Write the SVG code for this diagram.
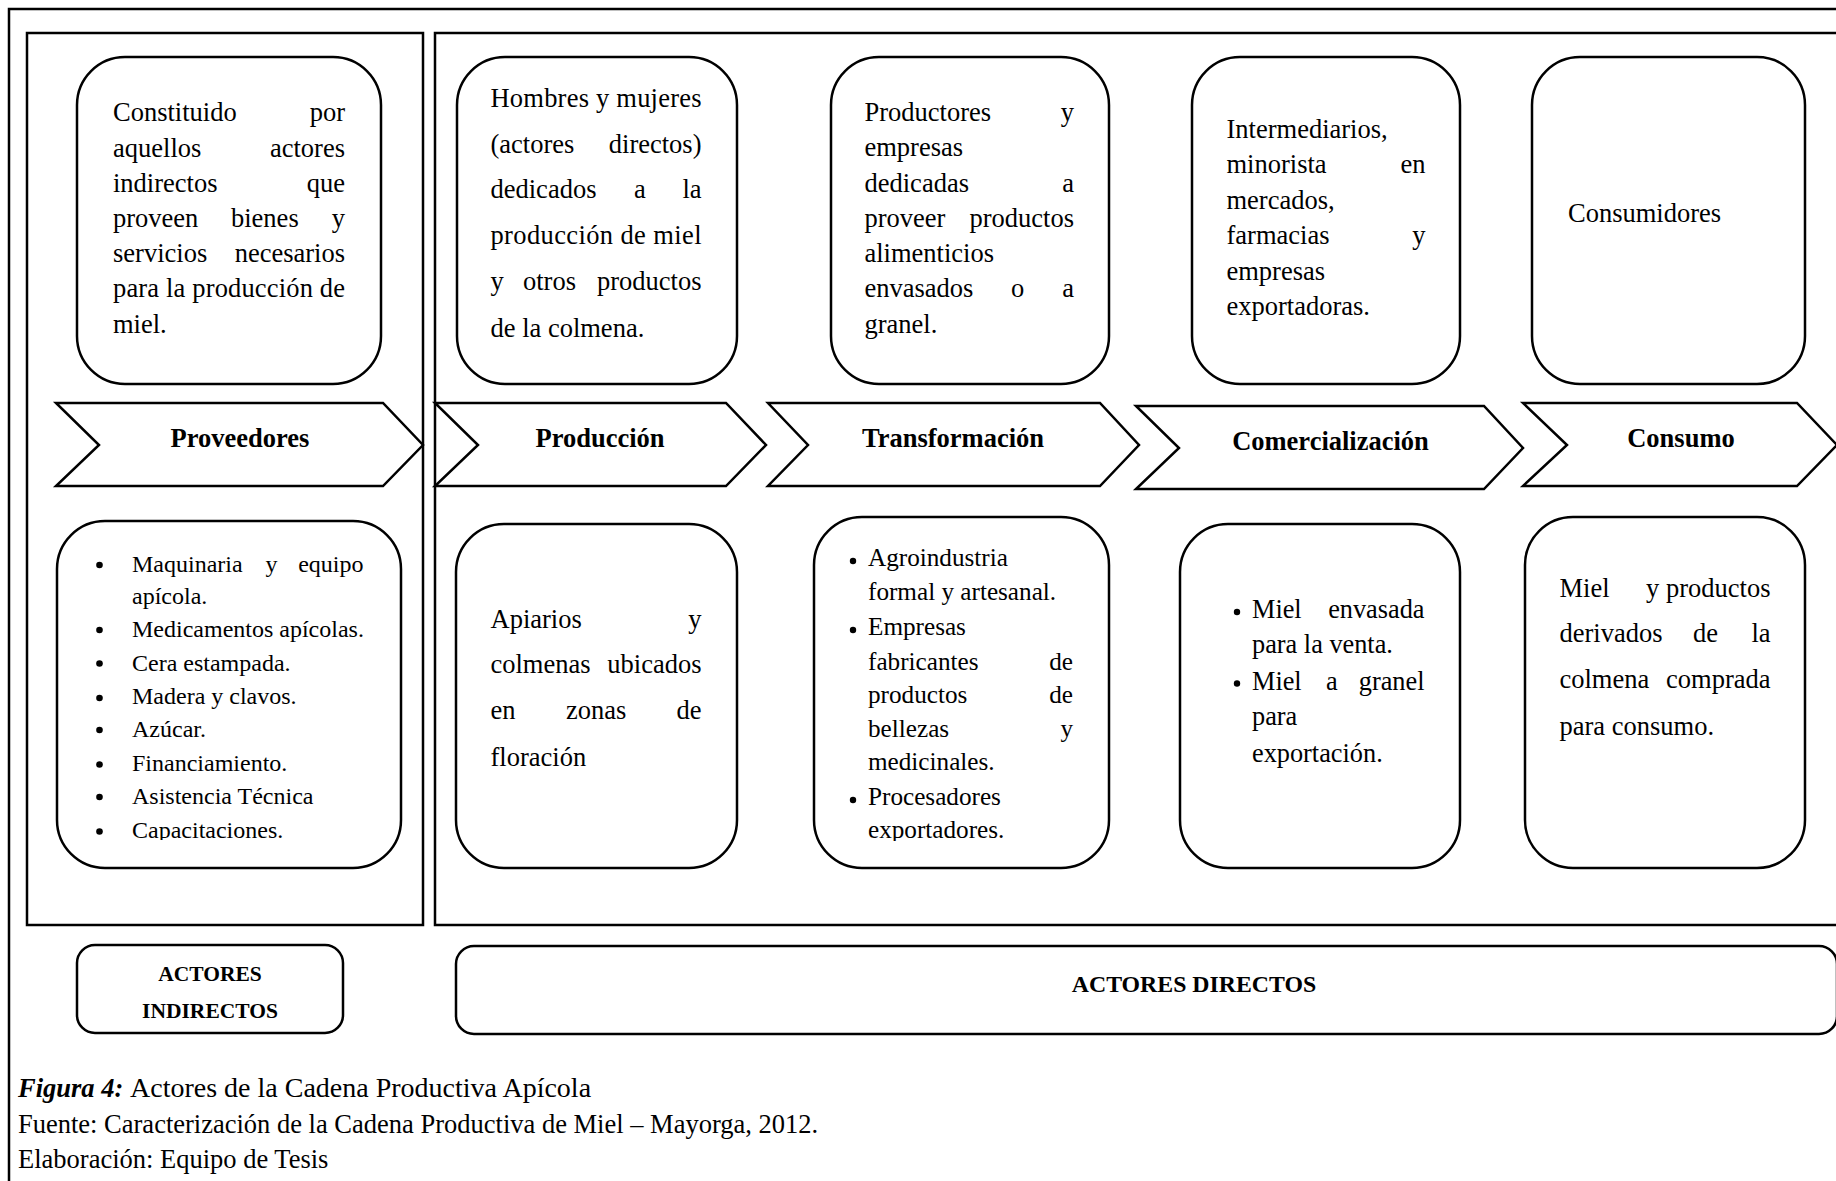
<svg xmlns="http://www.w3.org/2000/svg" width="1836" height="1181" viewBox="0 0 1836 1181">
<style>
.frame{fill:none;stroke:#000;stroke-width:2.5}
.box{fill:#fff;stroke:#000;stroke-width:2.5}
.t{font-family:"Liberation Serif","Times New Roman",serif;font-size:26.5px;fill:#000}
.s24{font-size:24px}
.s25{font-size:25.2px}
.s26{font-size:26.3px}
.b{font-weight:bold}
.c{text-anchor:middle}
.e{text-anchor:end}
.lab{font-family:"Liberation Serif","Times New Roman",serif;font-weight:bold;fill:#000;text-anchor:middle}
</style>
<defs>
<clipPath id="clipB1"><rect x="40" y="500" width="380" height="340"/></clipPath>
<clipPath id="clipB3"><rect x="800" y="500" width="320" height="341"/></clipPath>
</defs>
<rect width="1836" height="1181" fill="#fff"/>
<g id="frames">
<path class="frame" d="M1840,9 H9 V1190"/>
<rect class="frame" x="27" y="33" width="396" height="892"/>
<path class="frame" d="M1840,33 H435 V925 H1840"/>
</g>

<g id="top-proveedores">
<rect class="box" x="77" y="57" width="304" height="327" rx="48"/>
<text class="t"><tspan x="113" y="121">Constituido</tspan><tspan x="345" y="121" class="e">por</tspan></text>
<text class="t"><tspan x="113" y="157">aquellos</tspan><tspan x="345" y="157" class="e">actores</tspan></text>
<text class="t"><tspan x="113" y="192">indirectos</tspan><tspan x="345" y="192" class="e">que</tspan></text>
<text class="t"><tspan x="113" y="227">proveen</tspan><tspan x="231" y="227">bienes</tspan><tspan x="345" y="227" class="e">y</tspan></text>
<text class="t"><tspan x="113" y="262">servicios</tspan><tspan x="345" y="262" class="e">necesarios</tspan></text>
<text class="t" x="113" y="297" textLength="232" lengthAdjust="spacing">para la producción de</text>
<text class="t" x="113" y="333">miel.</text>
</g>

<g id="top-produccion">
<rect class="box" x="457" y="57" width="280" height="327" rx="48"/>
<text class="t" x="490.5" y="107" textLength="211" lengthAdjust="spacing">Hombres y mujeres</text>
<text class="t"><tspan x="490.5" y="153">(actores</tspan><tspan x="701.5" y="153" class="e">directos)</tspan></text>
<text class="t"><tspan x="490.5" y="198">dedicados</tspan><tspan x="634" y="198">a</tspan><tspan x="701.5" y="198" class="e">la</tspan></text>
<text class="t" x="490.5" y="244" textLength="211" lengthAdjust="spacing">producción de miel</text>
<text class="t"><tspan x="490.5" y="290">y</tspan><tspan x="523" y="290">otros</tspan><tspan x="701.5" y="290" class="e">productos</tspan></text>
<text class="t" x="490.5" y="337">de la colmena.</text>
</g>

<g id="top-transformacion">
<rect class="box" x="831" y="57" width="278" height="327" rx="48"/>
<text class="t"><tspan x="864.5" y="121">Productores</tspan><tspan x="1074" y="121" class="e">y</tspan></text>
<text class="t" x="864.5" y="156">empresas</text>
<text class="t"><tspan x="864.5" y="192">dedicadas</tspan><tspan x="1074" y="192" class="e">a</tspan></text>
<text class="t"><tspan x="864.5" y="227">proveer</tspan><tspan x="1074" y="227" class="e">productos</tspan></text>
<text class="t" x="864.5" y="262">alimenticios</text>
<text class="t"><tspan x="864.5" y="297">envasados</tspan><tspan x="1011" y="297">o</tspan><tspan x="1074" y="297" class="e">a</tspan></text>
<text class="t" x="864.5" y="333">granel.</text>
</g>

<g id="top-comercializacion">
<rect class="box" x="1192" y="57" width="268" height="327" rx="48"/>
<text class="t" x="1226.5" y="138">Intermediarios,</text>
<text class="t"><tspan x="1226.5" y="173">minorista</tspan><tspan x="1425.5" y="173" class="e">en</tspan></text>
<text class="t" x="1226.5" y="209">mercados,</text>
<text class="t"><tspan x="1226.5" y="244">farmacias</tspan><tspan x="1425.5" y="244" class="e">y</tspan></text>
<text class="t" x="1226.5" y="280">empresas</text>
<text class="t" x="1226.5" y="315">exportadoras.</text>
</g>

<g id="top-consumo">
<rect class="box" x="1532" y="57" width="273" height="327" rx="48"/>
<text class="t" x="1568" y="222">Consumidores</text>
</g>

<g id="chev-proveedores">
<polygon class="box" points="56,403 383,403 423,445 383,486 56,486 99,445"/>
<text class="lab" x="240" y="447" font-size="26.5">Proveedores</text>
</g>
<g id="chev-produccion">
<polygon class="box" points="435,403 726,403 766,445 726,486 435,486 478,445"/>
<text class="lab" x="600" y="447" font-size="26.5">Producción</text>
</g>
<g id="chev-transformacion">
<polygon class="box" points="768,403 1100,403 1139,445 1100,486 768,486 808,445"/>
<text class="lab" x="953" y="447" font-size="26.5">Transformación</text>
</g>
<g id="chev-comercializacion">
<polygon class="box" points="1136,406 1484,406 1523,448 1484,489 1136,489 1179,448"/>
<text class="lab" x="1330.5" y="450" font-size="26.5">Comercialización</text>
</g>
<g id="chev-consumo">
<polygon class="box" points="1523,403 1797,403 1837,445 1797,486 1523,486 1567,445"/>
<text class="lab" x="1681" y="447" font-size="26.5">Consumo</text>
</g>

<g id="bot-proveedores">
<rect class="box" x="57" y="521" width="344" height="347" rx="48"/>
<g clip-path="url(#clipB1)">
<circle cx="99.5" cy="565" r="3.3"/>
<circle cx="99.5" cy="630" r="3.3"/>
<circle cx="99.5" cy="663.5" r="3.3"/>
<circle cx="99.5" cy="698" r="3.3"/>
<circle cx="99.5" cy="730" r="3.3"/>
<circle cx="99.5" cy="764.5" r="3.3"/>
<circle cx="99.5" cy="797" r="3.3"/>
<circle cx="99.5" cy="831.5" r="3.3"/>
<text class="t s24"><tspan x="132" y="572">Maquinaria</tspan><tspan x="265.5" y="572">y</tspan><tspan x="363.5" y="572" class="e">equipo</tspan></text>
<text class="t s24" x="132" y="604">apícola.</text>
<text class="t s24" x="132" y="637">Medicamentos apícolas.</text>
<text class="t s24" x="132" y="671">Cera estampada.</text>
<text class="t s24" x="132" y="704">Madera y clavos.</text>
<text class="t s24" x="132" y="737">Azúcar.</text>
<text class="t s24" x="132" y="771">Financiamiento.</text>
<text class="t s24" x="132" y="804">Asistencia Técnica</text>
<text class="t s24" x="132" y="838">Capacitaciones.</text>
</g>
</g>

<g id="bot-produccion">
<rect class="box" x="456" y="524" width="281" height="344" rx="48"/>
<text class="t"><tspan x="490.5" y="628">Apiarios</tspan><tspan x="701.5" y="628" class="e">y</tspan></text>
<text class="t"><tspan x="490.5" y="673">colmenas</tspan><tspan x="701.5" y="673" class="e">ubicados</tspan></text>
<text class="t"><tspan x="490.5" y="719">en</tspan><tspan x="566" y="719">zonas</tspan><tspan x="701.5" y="719" class="e">de</tspan></text>
<text class="t" x="490.5" y="766">floración</text>
</g>

<g id="bot-transformacion">
<rect class="box" x="814" y="517" width="295" height="351" rx="48"/>
<g clip-path="url(#clipB3)">
<circle cx="853" cy="561" r="3.2"/>
<circle cx="853" cy="630" r="3.2"/>
<circle cx="853" cy="800" r="3.2"/>
<text class="t s25" x="868" y="566">Agroindustria</text>
<text class="t s25" x="868" y="600">formal y artesanal.</text>
<text class="t s25" x="868" y="635">Empresas</text>
<text class="t s25"><tspan x="868" y="670">fabricantes</tspan><tspan x="1073" y="670" class="e">de</tspan></text>
<text class="t s25"><tspan x="868" y="703">productos</tspan><tspan x="1073" y="703" class="e">de</tspan></text>
<text class="t s25"><tspan x="868" y="737">bellezas</tspan><tspan x="1073" y="737" class="e">y</tspan></text>
<text class="t s25" x="868" y="770">medicinales.</text>
<text class="t s25" x="868" y="805">Procesadores</text>
<text class="t s25" x="868" y="838">exportadores.</text>
</g>
</g>

<g id="bot-comercializacion">
<rect class="box" x="1180" y="524" width="280" height="344" rx="48"/>
<circle cx="1237" cy="612" r="3.2"/>
<circle cx="1237" cy="683.5" r="3.2"/>
<text class="t s26"><tspan x="1252" y="618">Miel</tspan><tspan x="1424.5" y="618" class="e">envasada</tspan></text>
<text class="t s26" x="1252" y="653">para la venta.</text>
<text class="t s26"><tspan x="1252" y="690">Miel</tspan><tspan x="1326" y="690">a</tspan><tspan x="1424.5" y="690" class="e">granel</tspan></text>
<text class="t s26" x="1252" y="725">para</text>
<text class="t s26" x="1252" y="762">exportación.</text>
</g>

<g id="bot-consumo">
<rect class="box" x="1525" y="517" width="280" height="351" rx="48"/>
<text class="t"><tspan x="1559.5" y="597">Miel</tspan><tspan x="1770.5" y="597" class="e">y productos</tspan></text>
<text class="t"><tspan x="1559.5" y="642">derivados</tspan><tspan x="1693" y="642">de</tspan><tspan x="1770.5" y="642" class="e">la</tspan></text>
<text class="t"><tspan x="1559.5" y="688">colmena</tspan><tspan x="1770.5" y="688" class="e">comprada</tspan></text>
<text class="t" x="1559.5" y="735">para consumo.</text>
</g>

<g id="label-indirectos">
<rect class="box" x="77" y="945" width="266" height="88" rx="18"/>
<text class="lab" x="210" y="981" font-size="21.5">ACTORES</text>
<text class="lab" x="210" y="1018" font-size="21.5">INDIRECTOS</text>
</g>
<g id="label-directos">
<rect class="box" x="456" y="946" width="1381" height="88" rx="18"/>
<text class="lab" x="1194" y="992" font-size="23.8">ACTORES DIRECTOS</text>
</g>

<g id="connectors"></g>

<g id="caption">
<text class="t" x="18" y="1097"><tspan font-weight="bold" font-style="italic">Figura 4:</tspan><tspan x="130" font-size="28">Actores de la Cadena Productiva Apícola</tspan></text>
<text class="t" x="18" y="1133">Fuente: Caracterización de la Cadena Productiva de Miel – Mayorga, 2012.</text>
<text class="t" x="18" y="1168">Elaboración: Equipo de Tesis</text>
</g>
</svg>
